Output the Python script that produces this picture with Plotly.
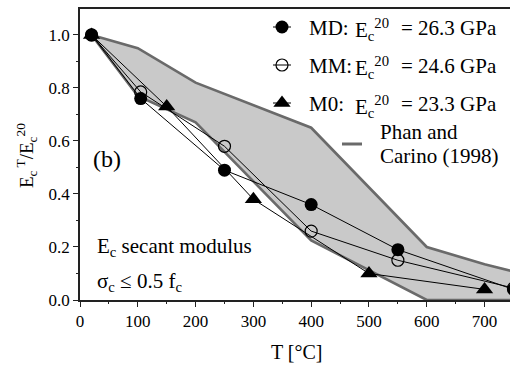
import plotly.graph_objects as go

# Temperature (deg C) and normalised secant modulus E_c^T / E_c^20
md_T = [20, 105, 250, 400, 550, 750]
md_E = [1.0, 0.76, 0.49, 0.36, 0.19, 0.04]

mm_T = [20, 105, 250, 400, 550, 750]
mm_E = [1.0, 0.785, 0.58, 0.26, 0.15, 0.045]

m0_T = [20, 150, 300, 500, 700]
m0_E = [1.0, 0.73, 0.38, 0.10, 0.04]

# Phan and Carino (1998) band
band_up_T = [20, 100, 200, 400, 600, 700, 800]
band_up_E = [1.0, 0.95, 0.82, 0.65, 0.20, 0.135, 0.08]
band_lo_T = [20, 100, 200, 400, 600, 800]
band_lo_E = [1.0, 0.77, 0.67, 0.225, 0.0, 0.0]

x_ticks = [0, 100, 200, 300, 400, 500, 600, 700]
x_minor = [50, 150, 250, 350, 450, 550, 650]
y_ticks = [0.0, 0.2, 0.4, 0.6, 0.8, 1.0]
y_minor = [0.1, 0.3, 0.5, 0.7, 0.9]

legend_rows = [
    ("MD:", "E<sub>c</sub><sup>20</sup>", "= 26.3 GPa"),
    ("MM:", "E<sub>c</sub><sup>20</sup>", "= 24.6 GPa"),
    ("M0:", "E<sub>c</sub><sup>20</sup>", "= 23.3 GPa"),
]

W, H = 510, 370
L, R, T, B = 80, 0, 9, 70
X_RANGE = [0, 744]
Y_RANGE = [0, 1.098]
FONT = "Liberation Serif"
AX = "#222222"
BAND_EDGE = "#6a6a6a"
BAND_FILL = "#c9c9c9"


def px_x(p):
    # figure pixel column -> axis value
    return X_RANGE[0] + (p - L) / (W - L - R) * (X_RANGE[1] - X_RANGE[0])


def px_y(p):
    # figure pixel row -> axis value
    return Y_RANGE[0] + (H - B - p) / (H - B - T) * (Y_RANGE[1] - Y_RANGE[0])


fig = go.Figure()

# shaded band
fig.add_trace(go.Scatter(
    x=band_up_T + band_lo_T[::-1],
    y=band_up_E + band_lo_E[::-1],
    mode="lines", fill="toself", fillcolor=BAND_FILL,
    line=dict(color=BAND_EDGE, width=2.6),
    hoverinfo="skip", showlegend=False,
))

# measured series
fig.add_trace(go.Scatter(
    x=m0_T, y=m0_E, mode="lines+markers",
    line=dict(color="black", width=1),
    marker=dict(symbol="triangle-up", size=15, color="black"),
    showlegend=False,
))
fig.add_trace(go.Scatter(
    x=mm_T, y=mm_E, mode="lines+markers",
    line=dict(color="black", width=1),
    marker=dict(symbol="circle-open", size=12, color="black", line=dict(width=1.2)),
    showlegend=False,
))
fig.add_trace(go.Scatter(
    x=md_T, y=md_E, mode="lines+markers",
    line=dict(color="black", width=1),
    marker=dict(symbol="circle", size=13, color="black"),
    showlegend=False,
))

# legend key glyphs
row_y = [27, 65, 103]
glyphs = [
    dict(symbol="circle", size=13, color="black"),
    dict(symbol="circle-open", size=12, color="black", line=dict(width=1.2)),
    dict(symbol="triangle-up", size=15, color="black"),
]
for yy, mk in zip(row_y, glyphs):
    fig.add_trace(go.Scatter(
        x=[px_x(273), px_x(291)], y=[px_y(yy), px_y(yy)], mode="lines",
        line=dict(color="black", width=1),
        showlegend=False, hoverinfo="skip",
    ))
    fig.add_trace(go.Scatter(
        x=[px_x(282)], y=[px_y(yy)], mode="markers", marker=mk,
        showlegend=False, hoverinfo="skip",
    ))
fig.add_trace(go.Scatter(
    x=[px_x(342), px_x(362)], y=[px_y(144), px_y(144)], mode="lines",
    line=dict(color=BAND_EDGE, width=3),
    showlegend=False, hoverinfo="skip",
))

# empty trace that carries the overlay axes holding the minor ticks
fig.add_trace(go.Scatter(x=[None], y=[None], xaxis="x2", yaxis="y2",
                         showlegend=False, hoverinfo="skip"))


def text(x, y, s, size, anchor="left", angle=0):
    # x, y given in figure pixels; placed in paper coordinates
    fig.add_annotation(
        x=(x - L) / (W - L - R), y=(H - B - y) / (H - B - T),
        xref="paper", yref="paper", text=s, showarrow=False,
        xanchor=anchor, yanchor="middle", textangle=angle,
        font=dict(family=FONT, size=size, color="black"),
    )


LEG = 21
for yy, (name, ec, val) in zip(row_y, legend_rows):
    text(307, yy + 1, name, LEG)
    text(353, yy + 3, ec, LEG)
    text(399, yy + 1, val, LEG)
text(378, 132, "Phan and", LEG)
text(378, 156, "Carino (1998)", LEG)

text(91, 159, "(b)", 24)
text(95, 247, "E<sub>c</sub> secant modulus", 21)
# sigma, less-or-equal and degree sign written as numeric entities
text(95, 282, "&#963;<sub>c</sub> &#8804; 0.5 f<sub>c</sub>", 21)

text(297, 352, "T [&#176;C]", 20, anchor="center")
text(26, 155, "E<sub>c</sub><sup> T</sup>/E<sub>c</sub><sup>20</sup>", 19,
     anchor="center", angle=-90)

fig.update_layout(
    width=W, height=H,
    margin=dict(l=L, r=R, t=T, b=B),
    paper_bgcolor="white", plot_bgcolor="white",
    xaxis=dict(
        range=X_RANGE, tickvals=x_ticks, ticks="outside", ticklen=5,
        tickwidth=1.3, tickcolor=AX, showline=True, linewidth=1.5,
        linecolor=AX, mirror=True, showgrid=False, zeroline=False,
        tickfont=dict(family=FONT, size=17, color="black"),
    ),
    yaxis=dict(
        range=Y_RANGE, tickvals=y_ticks,
        ticktext=[f"{v:.1f}" for v in y_ticks],
        ticks="outside", ticklen=5, tickwidth=1.3, tickcolor=AX,
        showline=True, linewidth=1.5, linecolor=AX, mirror=False,
        showgrid=False, zeroline=False,
        tickfont=dict(family=FONT, size=17, color="black"),
    ),
    xaxis2=dict(
        overlaying="x", anchor="y", side="bottom", range=X_RANGE,
        tickvals=x_minor, ticks="outside", ticklen=3, tickwidth=1.2,
        tickcolor=AX, showticklabels=False, showgrid=False,
        zeroline=False, showline=False,
    ),
    yaxis2=dict(
        overlaying="y", anchor="x", side="left", range=Y_RANGE,
        tickvals=y_minor, ticks="outside", ticklen=3, tickwidth=1.2,
        tickcolor=AX, showticklabels=False, showgrid=False,
        zeroline=False, showline=False,
    ),
)

fig.write_html("out.html")
